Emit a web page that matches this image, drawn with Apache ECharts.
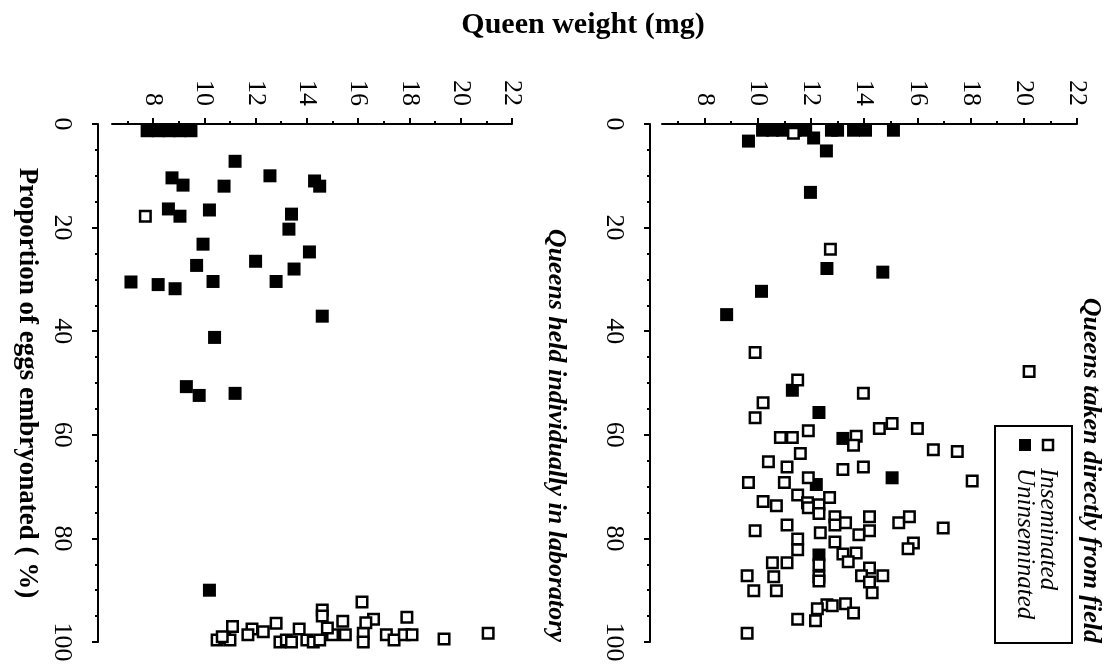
<!DOCTYPE html>
<html>
<head>
<meta charset="utf-8">
<script src="https://cdn.jsdelivr.net/npm/echarts@6/dist/echarts.min.js"></script>
<style>
  html, body { margin: 0; padding: 0; background: #fff; }
  #chart { width: 1114px; height: 670px; }
</style>
</head>
<body>
<div id="chart"></div>
<script>
// tick labels
var weightTicks = [8, 10, 12, 14, 16, 18, 20, 22];
var weightMinor = [7, 9, 11, 13, 15, 17, 19, 21];

// Queens held individually in laboratory
var labInsW = [7.7, 16.15, 14.6, 14.6, 17.9, 16.6, 15.4, 11.1, 11.86, 12.3, 12.8, 13.7, 21.07, 19.35, 17.1, 17.4, 17.8, 18.1, 16.2, 16.2, 10.5, 10.8, 11.0, 12.95, 13.2, 13.4, 14.0, 14.25, 14.5, 15.0, 15.5, 14.8, 11.7, 16.3, 10.7];
var labInsP = [17.8, 92.3, 93.8, 95, 95.2, 95.6, 96, 97, 97.5, 98, 96.4, 97.5, 98.3, 99.4, 98.6, 99.6, 98.6, 98.6, 98.3, 100, 99.6, 99.2, 99.6, 100, 99.6, 100, 99.6, 100, 99.6, 98.6, 98.6, 97.3, 98.6, 96.3, 99];
var labUninsW = [7.77, 8.2, 8.62, 9.05, 9.48, 11.2, 12.56, 8.74, 9.17, 10.77, 14.3, 14.5, 8.6, 9.05, 10.2, 13.4, 13.3, 9.95, 14.1, 12.0, 9.7, 13.5, 7.14, 8.2, 8.86, 10.34, 12.8, 14.6, 10.4, 9.3, 9.8, 11.2, 10.2];
var labUninsP = [1.3, 1.3, 1.3, 1.3, 1.3, 7.2, 10, 10.4, 11.8, 12, 11, 12, 16.4, 17.8, 16.6, 17.4, 20.3, 23.2, 24.7, 26.5, 27.3, 28, 30.5, 31, 31.8, 30.4, 30.4, 37.1, 41.2, 50.7, 52.4, 52, 90];

// Queens taken directly from field
var fieldInsW = [11.34, 12.73, 9.9, 11.5, 20.2, 13.97, 10.2, 9.9, 10.85, 11.3, 11.9, 13.7, 13.6, 14.57, 15.05, 16.0, 16.6, 17.5, 18.06, 10.4, 11.6, 11.1, 13.2, 13.97, 9.65, 11.0, 11.9, 11.5, 10.2, 10.7, 11.87, 11.9, 12.3, 12.7, 12.3, 12.9, 14.2, 15.3, 15.7, 16.97, 11.1, 12.9, 13.3, 14.2, 9.9, 12.35, 13.8, 11.5, 12.9, 15.85, 15.65, 11.5, 13.2, 13.7, 13.4, 10.55, 11.1, 12.3, 9.6, 10.6, 12.3, 14.2, 13.9, 14.7, 14.2, 9.85, 10.7, 14.3, 12.3, 12.6, 12.8, 13.3, 13.6, 12.24, 12.17, 11.5, 9.6];
var fieldInsP = [1.8, 24.2, 44.1, 49.4, 47.8, 52, 53.8, 56.7, 60.5, 60.5, 59.2, 60.3, 62, 58.8, 57.8, 58.8, 62.9, 63.2, 68.9, 65.2, 63.6, 66.2, 66.7, 66.2, 69.2, 69.2, 68.3, 71.6, 72.9, 73.7, 73.1, 74.1, 73.5, 72.1, 75.2, 75.8, 75.8, 77, 75.8, 78, 77.4, 77.4, 77, 78.5, 78.5, 78.9, 79.3, 80.1, 80.7, 80.9, 82, 82.2, 83, 82.8, 84.5, 84.7, 84.7, 85.1, 87.2, 87.4, 87.4, 85.7, 87.2, 87.2, 88.4, 90.1, 90.1, 90.5, 88.2, 92.8, 93, 92.6, 94.4, 93.6, 95.9, 95.6, 98.3];
var fieldUninsW = [9.65, 10.18, 10.55, 10.93, 11.4, 11.8, 12.1, 12.77, 13.0, 13.6, 14.05, 15.1, 12.58, 11.98, 12.6, 14.7, 10.14, 8.83, 11.3, 12.3, 13.2, 15.05, 12.2, 12.3];
var fieldUninsP = [3.3, 1.2, 1.2, 1.2, 1.2, 1.2, 2.7, 1.2, 1.2, 1.2, 1.2, 1.2, 5.2, 13.2, 27.9, 28.6, 32.3, 36.8, 51.4, 55.7, 60.7, 68.3, 69.6, 83.2];

var serif = "Liberation Serif";

function pairs(w, p) {
  return w.map(function (v, i) { return [v, p[i]]; });
}

function weightAxis(grid) {
  return {
    gridIndex: grid, type: "value", position: "top", min: 6.4, max: 22,
    axisLine: { lineStyle: { color: "#000", width: 2 } },
    axisTick: { show: true, length: 6, customValues: weightTicks, lineStyle: { color: "#000", width: 2 } },
    axisLabel: { customValues: weightTicks, rotate: -90, margin: 18, color: "#000", fontSize: 26, fontFamily: serif },
    splitLine: { show: false }
  };
}

function weightMinorAxis(grid) {
  return {
    gridIndex: grid, type: "value", position: "top", min: 6.4, max: 22,
    axisLine: { show: false },
    axisTick: { show: true, length: 3, customValues: weightMinor, lineStyle: { color: "#000", width: 2 } },
    axisLabel: { show: false },
    splitLine: { show: false }
  };
}

function propAxis(grid, off, name) {
  return {
    gridIndex: grid, type: "value", min: 0, max: 100, interval: 20, inverse: true, offset: off,
    name: name, nameLocation: "middle", nameRotate: -90, nameGap: 58,
    nameTextStyle: { color: "#000", fontSize: 27, fontWeight: "bold", fontFamily: serif },
    axisLine: { show: true, lineStyle: { color: "#000", width: 2 } },
    axisTick: { show: true, length: 6, lineStyle: { color: "#000", width: 2 } },
    minorTick: { show: true, splitNumber: 4, length: 3, lineStyle: { color: "#000", width: 2 } },
    axisLabel: { rotate: -90, margin: 23, color: "#000", fontSize: 26, fontFamily: serif },
    splitLine: { show: false },
    minorSplitLine: { show: false }
  };
}

function filled(xi, yi, data) {
  return {
    type: "scatter", xAxisIndex: xi, yAxisIndex: yi, data: data,
    symbol: "rect", symbolSize: 13,
    itemStyle: { color: "#000", opacity: 1 }
  };
}

function hollow(xi, yi, data) {
  return {
    type: "scatter", xAxisIndex: xi, yAxisIndex: yi, data: data,
    symbol: "rect", symbolSize: 10.5,
    itemStyle: { color: "#fff", borderColor: "#000", borderWidth: 2.5, opacity: 1 }
  };
}

var chart = echarts.init(document.getElementById("chart"));

chart.setOption({
  animation: false,
  backgroundColor: "#fff",
  title: {
    text: "Queen weight (mg)", left: 578, top: 5, textAlign: "center",
    textStyle: { color: "#000", fontSize: 30, fontWeight: "bold", fontFamily: serif }
  },
  grid: [
    { left: 112, width: 400, top: 124, height: 518 },
    { left: 662, width: 415, top: 124, height: 518 }
  ],
  xAxis: [weightAxis(0), weightMinorAxis(0), weightAxis(1), weightMinorAxis(1)],
  yAxis: [
    propAxis(0, 14, "Proportion of eggs embryonated ( %)"),
    propAxis(1, 12, "")
  ],
  series: [
    filled(0, 0, pairs(labUninsW, labUninsP)),
    hollow(0, 0, pairs(labInsW, labInsP)),
    filled(2, 1, pairs(fieldUninsW, fieldUninsP)),
    hollow(2, 1, pairs(fieldInsW, fieldInsP))
  ],
  graphic: [
    {
      type: "text", x: 556, y: 642, rotation: -Math.PI / 2,
      style: { text: "Queens held individually in laboratory", fill: "#000", align: "right", verticalAlign: "middle",
        font: "italic bold 26px 'Liberation Serif'" }
    },
    {
      type: "text", x: 1091, y: 643, rotation: -Math.PI / 2,
      style: { text: "Queens taken directly from field", fill: "#000", align: "right", verticalAlign: "middle",
        font: "italic bold 26px 'Liberation Serif'" }
    },
    // legend
    {
      type: "rect", shape: { x: 995, y: 426, width: 77, height: 217 },
      style: { fill: "#fff", stroke: "#000", lineWidth: 2 }
    },
    {
      type: "rect", shape: { x: 1043, y: 440, width: 10, height: 10 },
      style: { fill: "#fff", stroke: "#000", lineWidth: 2.5 }
    },
    {
      type: "rect", shape: { x: 1019, y: 439, width: 12, height: 12 },
      style: { fill: "#000" }
    },
    {
      type: "text", x: 1048, y: 468, rotation: -Math.PI / 2,
      style: { text: "Inseminated", fill: "#000", align: "left", verticalAlign: "middle",
        font: "italic 25px 'Liberation Serif'" }
    },
    {
      type: "text", x: 1025, y: 468, rotation: -Math.PI / 2,
      style: { text: "Uninseminated", fill: "#000", align: "left", verticalAlign: "middle",
        font: "italic 25px 'Liberation Serif'" }
    }
  ]
});
</script>
</body>
</html>
